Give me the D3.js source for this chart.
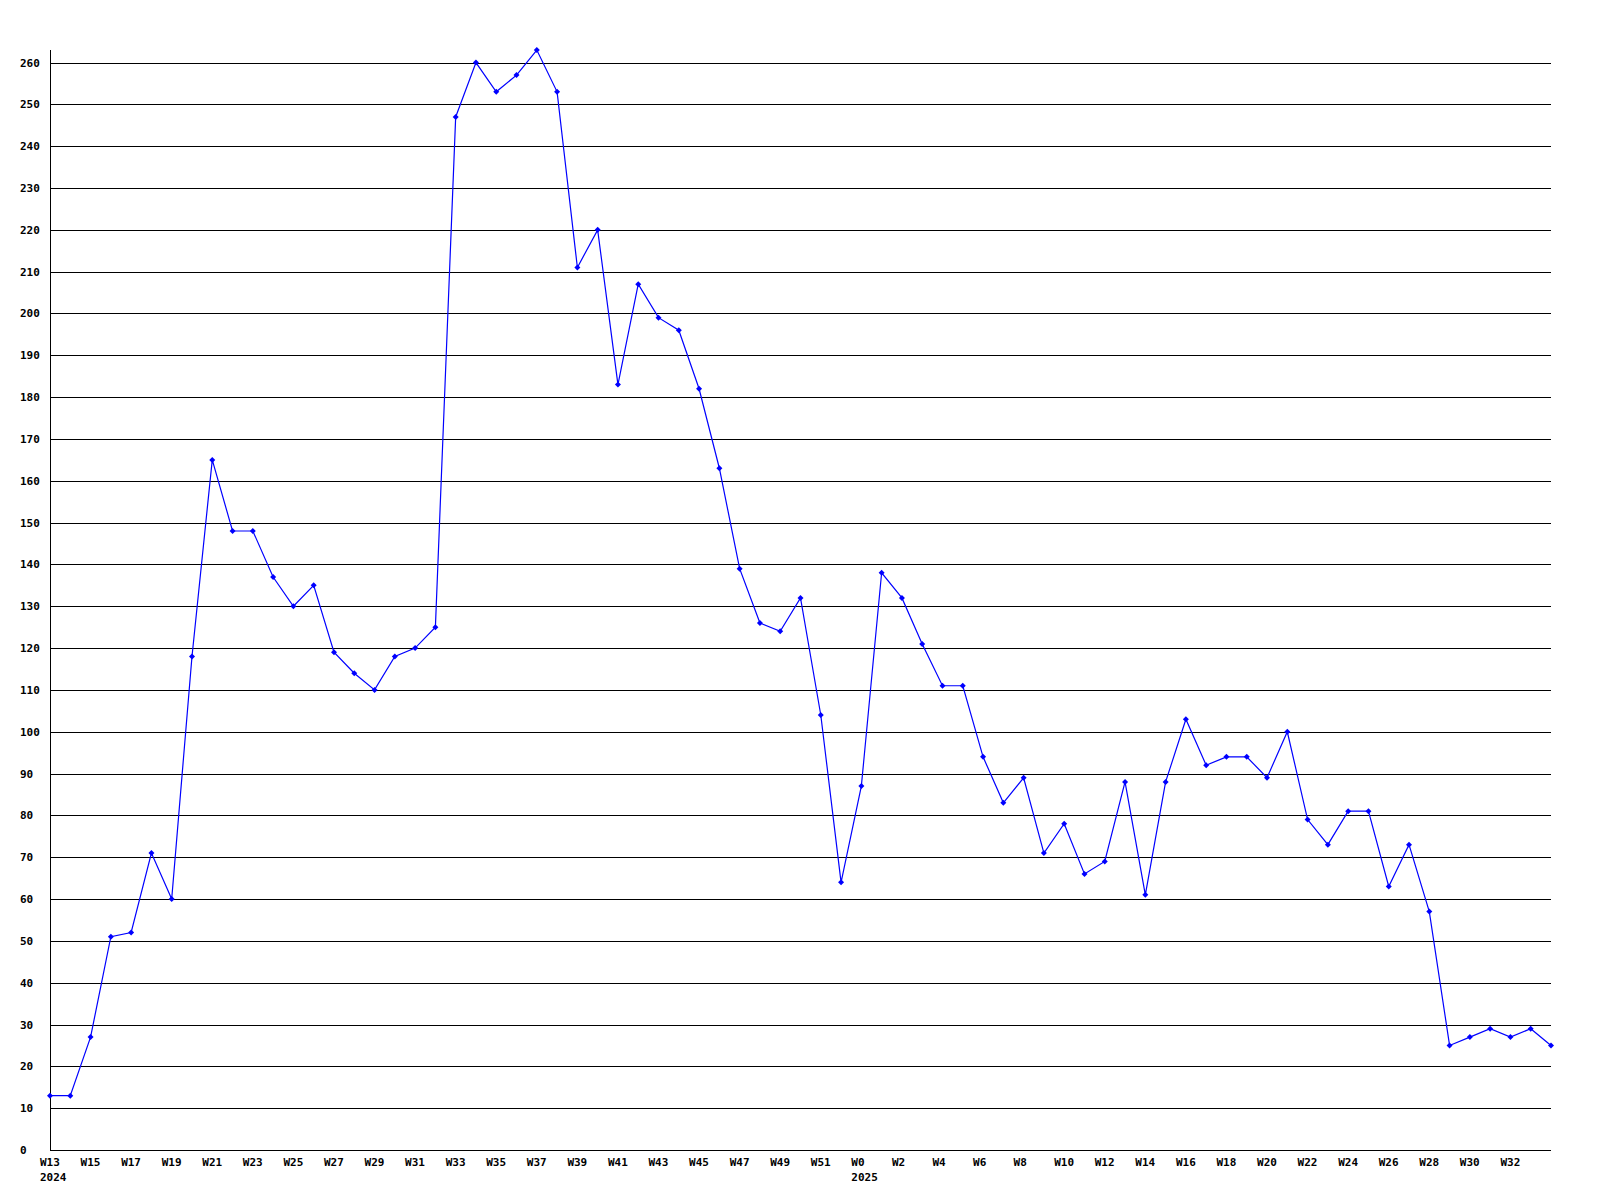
<!DOCTYPE html>
<html><head><meta charset="utf-8">
<script src="https://cdn.jsdelivr.net/npm/d3@7"></script>
<style>body{margin:0;background:#fff}svg{display:block}</style>
</head><body><svg id="c" width="1600" height="1200"></svg>
<script>
const weeks2024 = d3.range(13, 53).map(w => "W" + w);
const weeks2025 = d3.range(0, 35).map(w => "W" + w);
const values2024 = [13,13,27,51,52,71,60,118,165,148,148,137,130,135,119,114,110,118,120,125,247,260,253,257,263,253,211,220,183,207,199,196,182,163,139,126,124,132,104,64];
const values2025 = [87,138,132,121,111,111,94,83,89,71,78,66,69,88,61,88,103,92,94,94,89,100,79,73,81,81,63,73,57,25,27,29,27,29,25];
const yearLabels = [{week:"W13", year:"2024", idx:0},{week:"W0", year:"2025", idx:40}];
const yTicks = d3.range(0, 261, 10);

const labels = weeks2024.concat(weeks2025);
const values = values2024.concat(values2025);
const data = values.map((v,i)=>({i, label:labels[i], v}));

const svg = d3.select("#c");
const x = d3.scaleLinear().domain([0, data.length-1]).range([50, 1551]);
const y = d3.scaleLinear().domain([0, 263]).range([1150, 50]);
const font = "'DejaVu Sans Mono', monospace";

// gridlines
svg.append("g").selectAll("line").data(yTicks.filter(t=>t>0)).join("line")
  .attr("x1", 50).attr("x2", 1551)
  .attr("y1", d=>Math.round(y(d))+0.5).attr("y2", d=>Math.round(y(d))+0.5)
  .attr("stroke","#000").attr("stroke-width",1.3).attr("shape-rendering","crispEdges");
// axes lines
svg.append("line").attr("x1",50.5).attr("x2",50.5).attr("y1",50).attr("y2",1150.5)
  .attr("stroke","#000").attr("stroke-width",1.3).attr("shape-rendering","crispEdges");
svg.append("line").attr("x1",50).attr("x2",1551).attr("y1",1150.5).attr("y2",1150.5)
  .attr("stroke","#000").attr("stroke-width",1.3).attr("shape-rendering","crispEdges");

// y labels
svg.append("g").selectAll("text").data(yTicks).join("text")
  .attr("x", 20).attr("y", d=>Math.round(y(d))+4)
  .attr("font-family", font).attr("font-weight","bold").attr("font-size","11px")
  .text(d=>d);

// x labels (left-aligned just before each tick position)
svg.append("g").selectAll("text").data(data.filter(d=>d.i%2===0 && d.i<=72)).join("text")
  .attr("x", d=>x(d.i)-10).attr("y", 1166)
  .attr("font-family", font).attr("font-weight","bold").attr("font-size","11px")
  .text(d=>d.label);
svg.append("g").selectAll("text").data(yearLabels).join("text")
  .attr("x", d=>x(d.idx)-10).attr("y", 1181)
  .attr("font-family", font).attr("font-weight","bold").attr("font-size","11px")
  .text(d=>d.year);

// line
const line = d3.line().x(d=>x(d.i)).y(d=>y(d.v));
svg.append("path").datum(data).attr("d", line)
  .attr("fill","none").attr("stroke","#0000ff").attr("stroke-width",1.2);
// markers
svg.append("g").selectAll("path").data(data).join("path")
  .attr("transform", d=>`translate(${x(d.i)},${y(d.v)})`)
  .attr("d", "M0,-3L3,0L0,3L-3,0Z")
  .attr("fill","#0000ff");
</script></body></html>
